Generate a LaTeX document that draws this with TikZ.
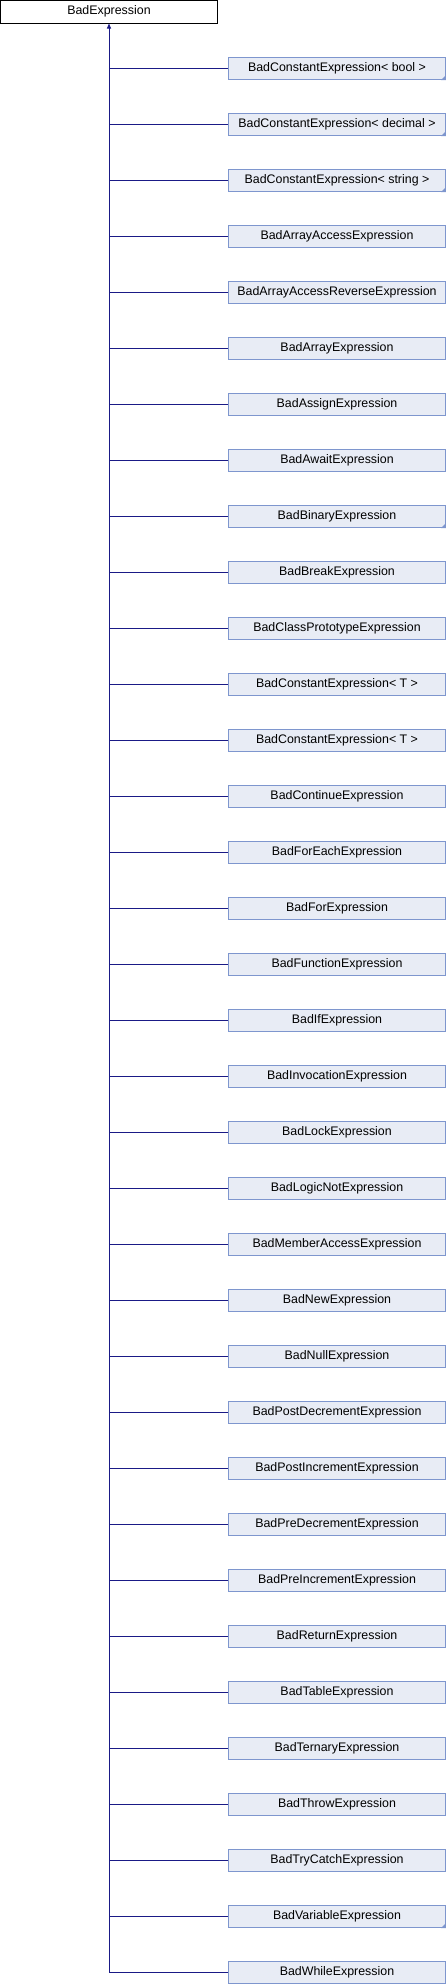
\documentclass[tikz,border=0pt]{standalone}
\usepackage{fontspec}
\setmainfont{Liberation Sans}
\usepackage{tikz}
\usetikzlibrary{arrows.meta,positioning,calc}
\usepackage{xcolor}
\definecolor{edgeblue}{HTML}{1A1A86}
\definecolor{boxfill}{HTML}{E8ECF5}
\definecolor{boxline}{HTML}{7E96CE}

\begin{document}
\begin{tikzpicture}[x=1pt,y=-1pt,
      cls/.style={draw=boxline,fill=boxfill,line width=1pt,minimum width=217pt,
                  minimum height=22.5pt,inner sep=0pt,
                  font=\fontsize{12.4}{14}\selectfont},
      basecls/.style={cls,draw=black,fill=white},
      edge/.style={draw=edgeblue,line width=1pt},
      ar/.style={edge,-{Triangle[length=5pt,width=4pt]}}]
    \useasboundingbox (0,0) rectangle (446,1984);
    % base class
    \node[basecls] (base) at (109,11.75) {BadExpression};
    % derived classes
    \foreach \name/\more [count=\i] in {
        BadConstantExpression< bool >/1, BadConstantExpression< decimal >/1,
        BadConstantExpression< string >/1, BadArrayAccessExpression/0,
        BadArrayAccessReverseExpression/0, BadArrayExpression/0,
        BadAssignExpression/0, BadAwaitExpression/0, BadBinaryExpression/1,
        BadBreakExpression/0, BadClassPrototypeExpression/0,
        BadConstantExpression< T >/0, BadConstantExpression< T >/0,
        BadContinueExpression/0, BadForEachExpression/0, BadForExpression/0,
        BadFunctionExpression/0, BadIfExpression/0, BadInvocationExpression/0,
        BadLockExpression/0, BadLogicNotExpression/0,
        BadMemberAccessExpression/0, BadNewExpression/0, BadNullExpression/0,
        BadPostDecrementExpression/0, BadPostIncrementExpression/0,
        BadPreDecrementExpression/0, BadPreIncrementExpression/0,
        BadReturnExpression/0, BadTableExpression/0, BadTernaryExpression/0,
        BadThrowExpression/0, BadTryCatchExpression/0,
        BadVariableExpression/1, BadWhileExpression/0} {
      \node[cls] (c\i) at (337,12.25+\i*56) {\name};
      \draw[edge] (c\i.west) -- (c\i.west -| base.south);
      \ifnum\more=1
        \fill[boxline] (c\i.south east) -- ++(0,-5) -- ++(-5,5) -- cycle;
      \fi}
    % inheritance arrow
    \draw[ar] (c35.west -| base.south) -- (base.south);
  \end{tikzpicture}
\end{document}
